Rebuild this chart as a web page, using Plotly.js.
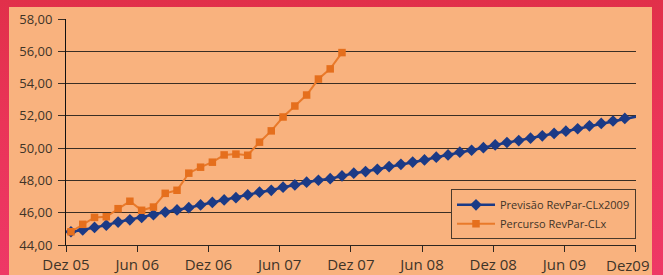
<!DOCTYPE html>
<html>
<head>
<meta charset="utf-8">
<script src="https://cdn.plot.ly/plotly-3.0.1.min.js"></script>
<style>
  html, body { margin: 0; padding: 0; width: 663px; height: 275px; overflow: hidden; }
  body { background: linear-gradient(to bottom, #e1304a 0%, #ea3458 45%, #ee3866 100%); position: relative; }
  #panel { position: absolute; left: 9px; top: 7px; width: 643px; height: 268px; background: #f9b27e; }
  #chart { position: absolute; left: 0; top: 0; width: 663px; height: 275px; }
</style>
</head>
<body>
<div id="panel"></div>
<div id="chart"></div>
<script>
// Tick labels of the month axis (every 6 months)
const tickLabels = ['Dez 05', 'Jun 06', 'Dez 06', 'Jun 07', 'Dez 07', 'Jun 08', 'Dez 08', 'Jun 09', 'Dez09'];

// Monthly values, Dez 05 .. Dez 09 (forecast)
const previsao = [
  44.82, 44.93, 45.09, 45.23, 45.42, 45.56, 45.71, 45.88, 46.04, 46.17, 46.31, 46.48,
  46.64, 46.79, 46.93, 47.10, 47.27, 47.39, 47.58, 47.72, 47.89, 48.01, 48.11, 48.28,
  48.45, 48.55, 48.69, 48.86, 49.00, 49.14, 49.27, 49.44, 49.58, 49.75, 49.87, 50.03,
  50.20, 50.35, 50.47, 50.62, 50.76, 50.91, 51.05, 51.20, 51.38, 51.53, 51.68, 51.84,
  51.96
];

// Monthly values, Dez 05 .. Nov 07 (actual)
const percurso = [
  44.82, 45.28, 45.71, 45.75, 46.25, 46.71, 46.15, 46.35, 47.20, 47.39, 48.45, 48.82,
  49.13, 49.58, 49.63, 49.56, 50.37, 51.07, 51.93, 52.61, 53.29, 54.28, 54.91, 55.92
];

const seriesNames = ['Previsão RevPar-CLx2009', 'Percurso RevPar-CLx'];

const idx = arr => arr.map((_, i) => i);

const xRange = [-0.42, 47.95];
const tickSpan = 47.92 - xRange[0];
const tickVals = tickLabels.map((_, k) => xRange[0] + k * tickSpan / (tickLabels.length - 1));
const lastK = tickLabels.length - 1;
// the last label is drawn as an annotation so it can sit right-aligned inside the panel
const tickText = tickLabels.map((t, k) => k === lastK ? '' : t);

const FONT = 'Open Sans, Noto Sans, sans-serif';
const TXT = '#3f3428';
const GRID = '#3a2e24';

const traces = [
  {
    x: idx(previsao), y: previsao, name: seriesNames[0],
    type: 'scatter', mode: 'lines+markers', cliponaxis: false,
    line: { color: '#1b3a86', width: 2.5 },
    marker: { symbol: 'diamond', size: 9, color: '#1b3a86', line: { width: 0 } }
  },
  {
    x: idx(percurso), y: percurso, name: seriesNames[1],
    type: 'scatter', mode: 'lines+markers', cliponaxis: false,
    line: { color: '#e97a2b', width: 2 },
    marker: { symbol: 'square', size: 7.5, color: '#e56f1d', line: { width: 0 } }
  }
];

const layout = {
  width: 663, height: 275,
  margin: { l: 66, r: 27, t: 19, b: 30, pad: 0 },
  paper_bgcolor: 'rgba(0,0,0,0)',
  plot_bgcolor: '#f9b27e',
  separators: ',.',
  showlegend: true,
  font: { family: FONT, color: TXT },
  xaxis: {
    range: xRange,
    tickmode: 'array', tickvals: tickVals, ticktext: tickText,
    showgrid: false, zeroline: false,
    showline: true, linecolor: '#2e2620', linewidth: 1,
    ticks: 'outside', ticklen: 6, tickwidth: 1, tickcolor: '#2e2620',
    tickfont: { family: FONT, size: 15, color: TXT },
    fixedrange: true
  },
  yaxis: {
    range: [44, 58], dtick: 2, tick0: 44,
    tickformat: '.2f',
    showgrid: true, gridcolor: GRID, gridwidth: 1.2,
    zeroline: false,
    showline: true, linecolor: '#111111', linewidth: 1,
    ticks: 'outside', ticklen: 7, tickwidth: 1, tickcolor: GRID,
    tickfont: { family: FONT, size: 13, color: TXT },
    ticklabelstandoff: 3,
    fixedrange: true
  },
  annotations: [{
    x: tickVals[lastK], xref: 'x', y: 0, yref: 'paper',
    text: tickLabels[lastK], showarrow: false,
    xanchor: 'right', yanchor: 'middle', xshift: 16, yshift: -20,
    font: { family: FONT, size: 15, color: TXT }
  }],
  legend: {
    x: 1, xanchor: 'right', y: 0.025, yanchor: 'bottom',
    bgcolor: '#f9b27e', bordercolor: '#4a3a2c', borderwidth: 1,
    font: { family: FONT, size: 11, color: TXT },
    itemwidth: 38,
    tracegroupgap: 0
  }
};

Plotly.newPlot('chart', traces, layout, { displayModeBar: false, staticPlot: true });
</script>
</body>
</html>
